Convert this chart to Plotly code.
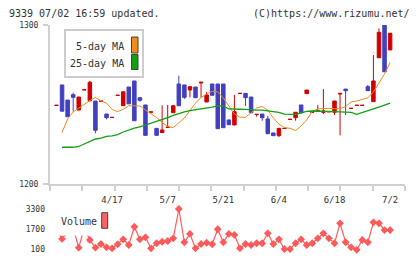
import plotly.graph_objects as go
import numpy as np

# ---------------- data ----------------
candle_index = list(range(61))
tick_index = [10, 20, 30, 40, 50, 60]
tick_labels = ["4/17", "5/7", "5/21", "6/4", "6/18", "7/2"]

opens = [1249.4, 1262.3, 1252.8, 1256.2, 1246.5, 1259.2, 1252.3, 1252.2, 1252.1, 1244.0,
         1241.8, 1255.7, 1249.3, 1261.0, 1264.8, 1254.3, 1249.7, 1245.2, 1235.0, 1232.3,
         1235.6, 1244.8, 1262.9, 1262.3, 1259.1, 1261.0, 1263.5, 1251.6, 1262.9, 1262.9,
         1262.9, 1240.3, 1237.1, 1256.9, 1257.0, 1254.7, 1243.7, 1244.0, 1240.9, 1232.1,
         1230.4, 1234.9, 1240.6, 1241.7, 1249.7, 1256.8, 1245.2, 1245.6, 1245.1, 1245.4,
         1245.1, 1256.6, 1259.7, 1247.5, 1249.4, 1249.4, 1261.2, 1251.8, 1279.4, 1301.0,
         1284.3]
highs = [1249.5, 1262.3, 1252.8, 1257.4, 1254.7, 1259.9, 1264.8, 1252.2, 1252.2, 1244.0,
         1241.9, 1255.8, 1258.0, 1261.0, 1264.8, 1254.3, 1249.7, 1245.3, 1235.0, 1249.5,
         1249.7, 1249.7, 1268.1, 1262.3, 1261.2, 1261.0, 1264.0, 1257.9, 1262.9, 1262.9,
         1262.9, 1240.3, 1256.0, 1257.0, 1257.0, 1254.7, 1243.8, 1244.0, 1242.8, 1232.1,
         1235.0, 1235.0, 1240.7, 1245.1, 1249.7, 1259.1, 1245.3, 1249.7, 1259.7, 1245.5,
         1252.2, 1257.0, 1259.7, 1247.6, 1249.5, 1249.5, 1262.3, 1281.1, 1297.9, 1302.0,
         1294.8]
lows = [1249.4, 1245.8, 1242.3, 1245.5, 1246.5, 1259.2, 1252.3, 1231.9, 1252.1, 1240.7,
        1241.8, 1255.7, 1249.3, 1250.4, 1239.8, 1251.8, 1230.6, 1245.2, 1230.6, 1232.3,
        1235.6, 1244.8, 1249.2, 1253.5, 1254.5, 1254.3, 1254.3, 1251.6, 1255.8, 1234.8,
        1235.4, 1237.3, 1237.1, 1256.9, 1249.1, 1244.8, 1242.3, 1239.8, 1231.6, 1230.4,
        1229.6, 1234.9, 1240.6, 1239.8, 1244.8, 1256.8, 1245.2, 1245.6, 1244.0, 1245.4,
        1243.4, 1230.6, 1243.4, 1247.5, 1249.4, 1249.4, 1258.7, 1251.8, 1279.4, 1270.6,
        1284.3]
closes = [1249.5, 1245.8, 1242.3, 1254.5, 1254.7, 1259.3, 1264.0, 1233.8, 1252.2, 1241.7,
          1241.9, 1255.8, 1258.0, 1250.4, 1239.8, 1252.6, 1230.6, 1245.3, 1230.6, 1234.0,
          1235.7, 1249.2, 1249.2, 1254.5, 1261.2, 1254.3, 1264.0, 1256.0, 1255.8, 1234.8,
          1235.4, 1237.3, 1245.5, 1257.0, 1254.3, 1244.8, 1243.8, 1241.7, 1231.6, 1230.4,
          1235.0, 1235.0, 1240.7, 1245.1, 1244.8, 1259.1, 1245.3, 1246.0, 1245.9, 1245.5,
          1252.2, 1257.0, 1258.7, 1247.6, 1249.5, 1249.5, 1258.7, 1264.8, 1295.4, 1270.6,
          1294.8]

ma5 = [None, 1232.3, 1240.9, 1245.3, 1247.8, 1250.0, 1252.5, 1254.4, 1252.3, 1250.9,
       1246.9, 1245.5, 1246.9, 1249.2, 1249.1, 1249.1, 1246.5, 1244.3, 1241.8, 1238.7,
       1236.2, 1235.5, 1238.7, 1241.5, 1246.2, 1250.9, 1254.4, 1256.6, 1258.2, 1258.0,
       1254.1, 1248.7, 1244.0, 1242.0, 1242.0, 1244.7, 1247.8, 1248.7, 1246.5, 1241.5,
       1237.7, 1235.5, 1235.0, 1233.6, 1236.5, 1240.3, 1245.6, 1247.2, 1247.6, 1247.6,
       1247.4, 1247.4, 1248.7, 1251.6, 1252.2, 1253.1, 1254.2, 1257.9, 1263.5, 1269.2,
       1276.4]
ma25 = [None, 1223.1, 1223.1, 1223.1, 1223.6, 1225.0, 1226.6, 1228.3, 1228.9, 1229.9,
        1230.2, 1231.1, 1232.7, 1234.1, 1235.2, 1236.0, 1237.1, 1238.4, 1239.6, 1240.6,
        1241.8, 1243.1, 1244.3, 1245.3, 1246.2, 1246.7, 1247.0, 1247.6, 1248.3, 1249.1,
        1249.1, 1247.2, 1246.9, 1247.0, 1246.9, 1246.5, 1246.5, 1246.4, 1246.0, 1245.5,
        1245.0, 1244.0, 1243.8, 1243.8, 1244.7, 1245.7, 1245.9, 1245.9, 1245.9, 1245.6,
        1245.5, 1245.3, 1245.1, 1245.0, 1243.8, 1244.8, 1245.9, 1247.2, 1248.4, 1249.7,
        1250.8]

volume = [1700, 920, 1500, 1800, 230, 1800, 840, 230, 520, 260,
          180, 500, 890, 440, 1890, 890, 1050, 180, 580, 700,
          760, 970, 3300, 660, 1320, 180, 520, 620, 500, 1690,
          660, 1320, 1240, 180, 520, 440, 580, 580, 1370, 520,
          890, 120, 120, 580, 890, 440, 580, 970, 1370, 970,
          580, 2160, 660, 260, 60, 840, 660, 2240, 2160, 1630,
          1630]

price_ticks = [1200, 1300]
volume_ticks = [100, 1700, 3300]

# ---------------- styling / layout helpers ----------------
W, H = 420, 259
ML, MR, MT, MB = 50, 15, 25, 5
PW, PH = W - ML - MR, H - MT - MB
FONT = "DejaVu Sans Mono"
TXT = "#333333"
AX = "#d0d0d0"
RED = "#d00000"
BLUE = "#4040c0"
ORANGE = "#f08c1a"
GREEN = "#10a010"
VOLC = "#ff5a5a"


def px(x):
    return (x - ML) / PW


def py(y):
    return (H - MB - y) / PH


x_lo, x_hi = -1.17, 62.68

fig = go.Figure()
fig.add_trace(go.Candlestick(
    x=candle_index, open=opens, high=highs, low=lows, close=closes,
    increasing=dict(line=dict(color=RED, width=1), fillcolor=RED),
    decreasing=dict(line=dict(color=BLUE, width=1), fillcolor=BLUE),
    whiskerwidth=0, hoverinfo="skip", showlegend=False,
    xaxis="x", yaxis="y"))
fig.add_trace(go.Scatter(x=candle_index, y=ma5, mode="lines",
                         line=dict(color=ORANGE, width=1), showlegend=False,
                         xaxis="x", yaxis="y", hoverinfo="skip"))
fig.add_trace(go.Scatter(x=candle_index, y=ma25, mode="lines",
                         line=dict(color=GREEN, width=1.3), showlegend=False,
                         xaxis="x", yaxis="y", hoverinfo="skip"))
fig.add_trace(go.Scatter(x=candle_index, y=volume, mode="lines+markers",
                         line=dict(color=VOLC, width=1.2),
                         marker=dict(symbol="diamond", size=6, color=VOLC),
                         showlegend=False, xaxis="x2", yaxis="y2", hoverinfo="skip"))

main_bottom = py(184)
vol_top = py(205)
v_lo = 100 - (254 - 249.3) * 79.4
v_hi = 100 + (249.3 - 205) * 79.4

fig.update_layout(
    template="none",
    width=W, height=H, autosize=False,
    margin=dict(l=ML, r=MR, t=MT, b=MB, pad=0, autoexpand=False),
    paper_bgcolor="white", plot_bgcolor="white",
    font=dict(family=FONT, color=TXT),
    boxgap=0.1,
    xaxis=dict(domain=[0, 1], range=[x_lo, x_hi], anchor="y", automargin=False,
               tickmode="array", tickvals=tick_index, ticktext=tick_labels,
               ticks="outside", ticklen=6, tickcolor="rgba(0,0,0,0)",
               tickfont=dict(size=9, family=FONT, color=TXT),
               showline=True, linecolor=AX, linewidth=2,
               showgrid=False, zeroline=False,
               rangeslider=dict(visible=False),
               minor=dict(tickmode="array",
                          tickvals=list(np.linspace(x_lo, x_hi, 12)),
                          ticks="outside", ticklen=5, tickwidth=2,
                          tickcolor=AX, showgrid=False)),
    yaxis=dict(domain=[main_bottom, 1], range=[1200, 1300], anchor="x",
               automargin=False,
               tickmode="array", tickvals=price_ticks,
               ticks="outside", ticklen=5, tickwidth=2, tickcolor=AX,
               tickfont=dict(size=8, family=FONT, color=TXT),
               ticklabelstandoff=3,
               showline=True, linecolor=AX, linewidth=2,
               showgrid=False, zeroline=False),
    xaxis2=dict(domain=[0, 1], anchor="y2", matches="x", visible=False),
    yaxis2=dict(domain=[0, vol_top], range=[v_lo, v_hi], anchor="x2",
                automargin=False,
                tickmode="array", tickvals=volume_ticks,
                ticks="", tickfont=dict(size=8, family=FONT, color=TXT),
                ticklabelstandoff=4,
                showline=False, showgrid=False, zeroline=False),
)

shapes = [
    dict(type="rect", xref="paper", yref="paper", x0=px(65), x1=px(143),
         y0=py(77), y1=py(30), line=dict(color="#cccccc", width=2),
         fillcolor="white", layer="above"),
    dict(type="rect", xref="paper", yref="paper", x0=px(131.5), x1=px(138),
         y0=py(53), y1=py(37), line=dict(color="#444444", width=1),
         fillcolor=ORANGE, layer="above"),
    dict(type="rect", xref="paper", yref="paper", x0=px(131.5), x1=px(138),
         y0=py(69.5), y1=py(54.5), line=dict(color="#444444", width=1),
         fillcolor=GREEN, layer="above"),
    dict(type="rect", xref="paper", yref="paper", x0=px(52), x1=px(114),
         y0=py(235.5), y1=py(205), line=dict(width=0),
         fillcolor="white", layer="above"),
    dict(type="rect", xref="paper", yref="paper", x0=px(101.7), x1=px(107.7),
         y0=py(228.3), y1=py(212.7), line=dict(color="#444444", width=1),
         fillcolor="#ff6060", layer="above"),
]
fig.update_layout(shapes=shapes)

ann_font = dict(family=FONT, size=10, color=TXT)
annotations = [
    dict(text="9339 07/02 16:59 updated.", x=px(8), y=py(13), xanchor="left"),
    dict(text="(C)https://www.rizumu.net/", x=px(411), y=py(13), xanchor="right"),
    dict(text="5-day MA", x=px(125), y=py(46), xanchor="right"),
    dict(text="25-day MA", x=px(125), y=py(63), xanchor="right"),
    dict(text="Volume", x=px(98), y=py(221), xanchor="right"),
]
for a in annotations:
    a.update(xref="paper", yref="paper", yanchor="middle", showarrow=False,
             font=ann_font, borderpad=0)
fig.update_layout(annotations=annotations)

fig.write_html("out.html")
